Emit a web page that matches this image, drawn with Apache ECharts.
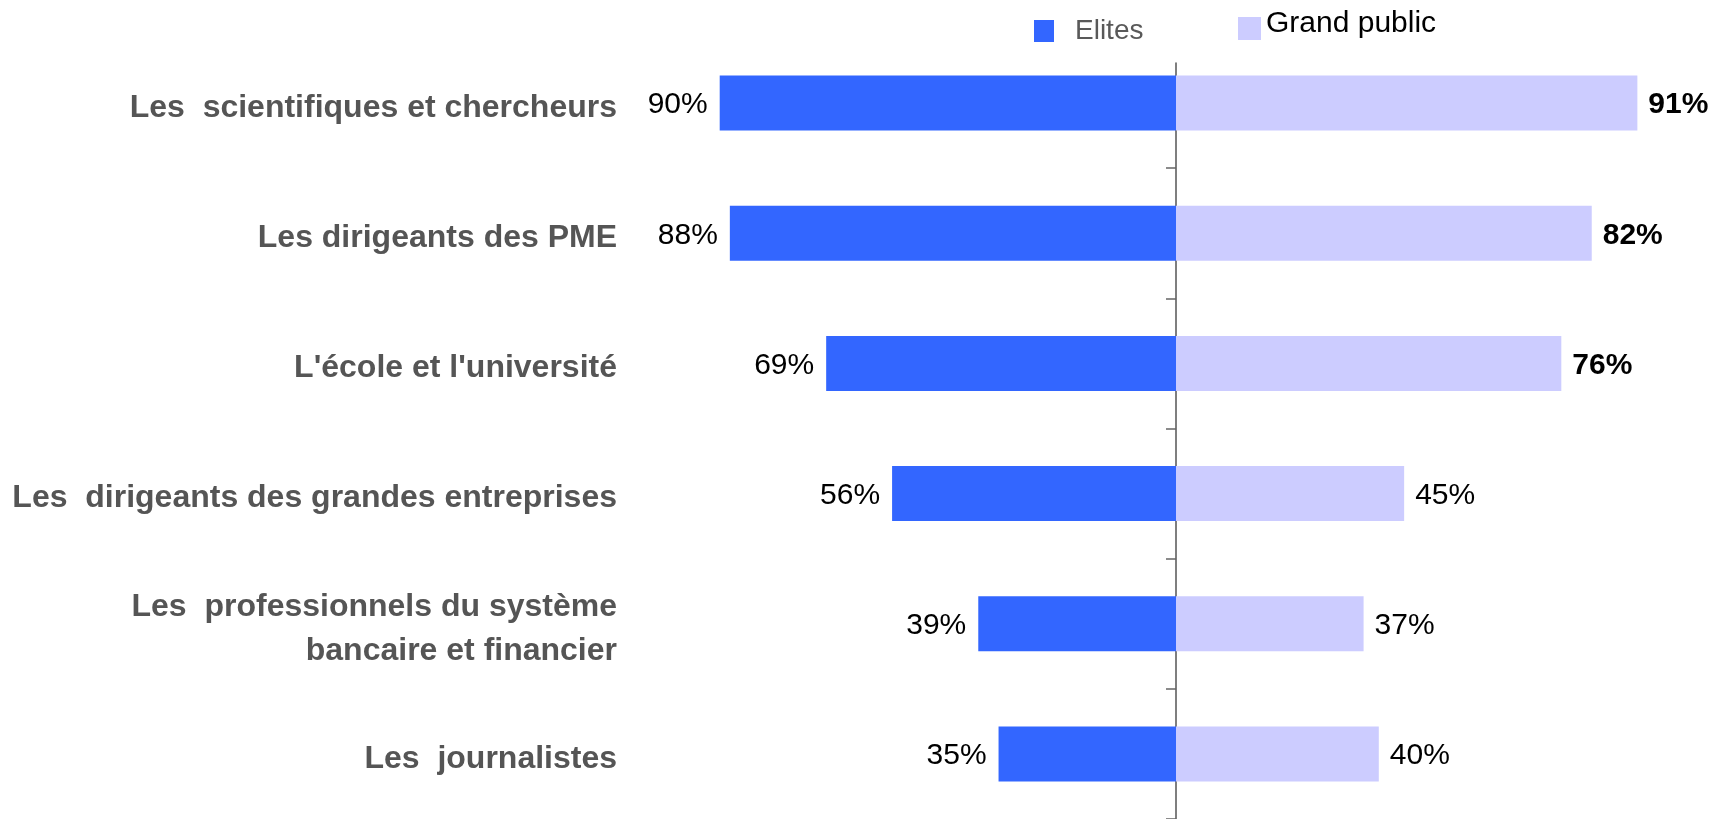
<!DOCTYPE html>
<html>
<head>
<meta charset="utf-8">
<script src="https://cdn.jsdelivr.net/npm/echarts@6/dist/echarts.min.js"></script>
<style>
  html, body { margin: 0; padding: 0; background: #fff; }
  #main { width: 1719px; height: 819px; }
</style>
</head>
<body>
<div id="main"></div>
<script>
var categories = [
  'Les  scientifiques et chercheurs',
  'Les dirigeants des PME',
  "L'école et l'université",
  'Les  dirigeants des grandes entreprises',
  'Les  professionnels du système\nbancaire et financier',
  'Les  journalistes'
];
var elites = [90, 88, 69, 56, 39, 35];
var grandPublic = [91, 82, 76, 45, 37, 40];

var font = "'Liberation Sans', Arial, sans-serif";

var chartDom = document.getElementById('main');
var myChart = echarts.init(chartDom);

var option = {
  animation: false,
  legend: [
    {
      data: ['Elites'],
      left: 1034,
      top: 17,
      padding: 0,
      icon: 'rect',
      itemWidth: 20,
      itemHeight: 22,
      selectedMode: false,
      textStyle: { fontFamily: font, fontSize: 28, color: '#595959', padding: [0, 0, 0, 16] }
    },
    {
      data: ['Grand public'],
      left: 1238,
      top: 9,
      padding: 0,
      icon: 'rect',
      itemWidth: 23,
      itemHeight: 23,
      selectedMode: false,
      formatter: '{g|{name}}',
      textStyle: {
        padding: [0, 0, 9, 0],
        rich: { g: { fontFamily: font, fontSize: 30, color: '#000' } }
      }
    }
  ],
  grid: [
    { left: 669, right: 36, top: 38, bottom: -2 },
    // second grid only carries the central axis line (starts a bit lower)
    { left: 669, right: 36, top: 63, bottom: 0 }
  ],
  xAxis: [
    { type: 'value', gridIndex: 0, min: -100, max: 100, show: false },
    { type: 'value', gridIndex: 1, min: -100, max: 100, show: false }
  ],
  yAxis: [
    {
      type: 'category',
      gridIndex: 0,
      data: categories,
      inverse: true,
      position: 'left',
      axisLine: { show: false, onZero: false },
      axisTick: { show: false },
      axisLabel: {
        margin: 52,
        padding: [10, 0, 0, 0],
        formatter: function (v) {
          return v.split('\n').map(function (l) { return '{c|' + l + '}'; }).join('\n');
        },
        rich: {
          c: {
            fontFamily: font,
            fontSize: 32,
            fontWeight: 'bold',
            color: '#555555',
            lineHeight: 44
          }
        }
      }
    },
    {
      type: 'category',
      gridIndex: 0,
      data: categories,
      inverse: true,
      position: 'left',
      axisLine: { show: false, onZero: true },
      axisTick: {
        show: true,
        length: 10,
        lineStyle: { color: '#666', width: 1.5 },
        interval: function (i) { return i > 0; }
      },
      axisLabel: { show: false }
    },
    {
      type: 'value',
      gridIndex: 1,
      min: 0,
      max: 1,
      position: 'left',
      axisLine: { show: true, onZero: true, lineStyle: { color: '#555', width: 1.5 } },
      axisTick: { show: false },
      axisLabel: { show: false },
      splitLine: { show: false }
    }
  ],
  series: [
    {
      name: 'Elites',
      type: 'bar',
      stack: 'total',
      xAxisIndex: 0,
      yAxisIndex: 0,
      barWidth: 55,
      itemStyle: { color: '#3366FF' },
      label: {
        show: true,
        position: 'left',
        distance: 12,
        offset: [0, 2],
        fontFamily: font,
        fontSize: 30,
        color: '#000',
        formatter: function (p) { return Math.abs(p.value) + '%'; }
      },
      data: elites.map(function (v) { return -v; })
    },
    {
      name: 'Grand public',
      type: 'bar',
      stack: 'total',
      xAxisIndex: 0,
      yAxisIndex: 0,
      barWidth: 55,
      itemStyle: { color: '#CCCCFF' },
      label: {
        show: true,
        position: 'right',
        distance: 11,
        offset: [0, 2],
        fontFamily: font,
        fontSize: 30,
        color: '#000',
        formatter: '{c}%'
      },
      data: grandPublic.map(function (v, i) {
        return { value: v, label: { fontWeight: i < 3 ? 'bold' : 'normal' } };
      })
    }
  ]
};

myChart.setOption(option);
</script>
</body>
</html>
